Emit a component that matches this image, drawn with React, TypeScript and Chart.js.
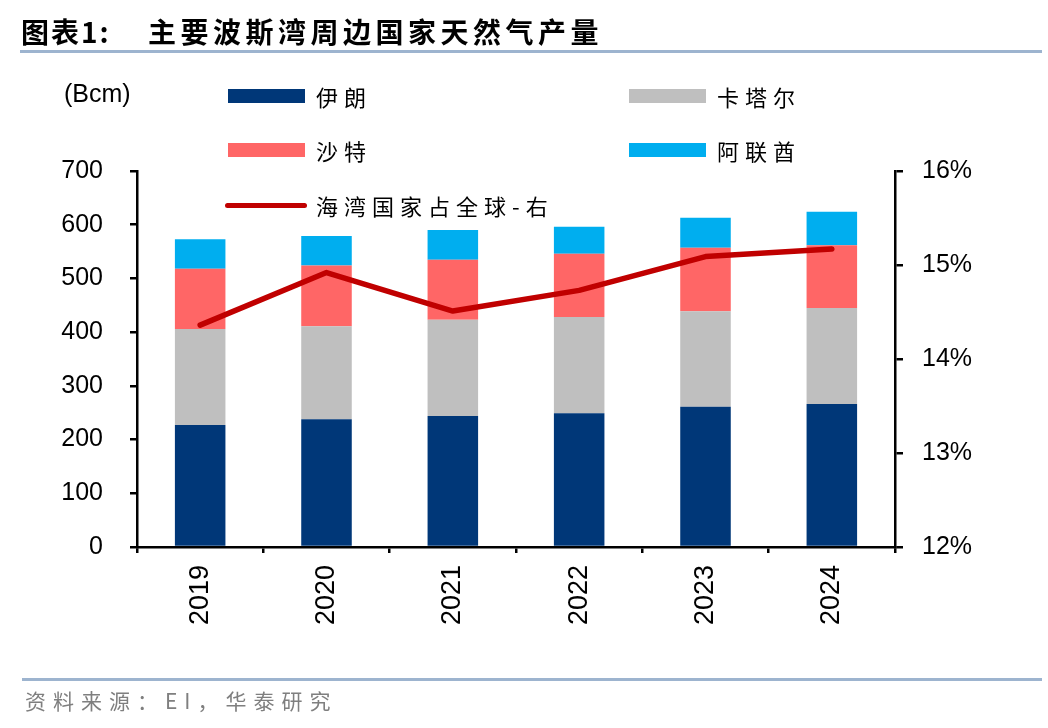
import React, { useEffect, useRef } from "react";
import { Chart, registerables } from "chart.js";

Chart.register(...registerables);

const years = ["2019", "2020", "2021", "2022", "2023", "2024"];
const iran = [227, 238, 244, 249, 261, 266];
const qatar = [179, 173, 179, 179, 178, 179];
const saudi = [112, 113, 112, 118, 118, 117];
const uae = [55, 55, 55, 50, 56, 62];
const gulfShare = [14.36, 14.92, 14.51, 14.73, 15.09, 15.17];

const seriesNames = ["伊朗", "卡塔尔", "沙特", "阿联酋", "海湾国家占全球-右"];
const colors = ["#003778", "#BFBFBF", "#FF6666", "#00AEEF", "#C00000"];

const titleLeft = "图表1:";
const titleRight = "主要波斯湾周边国家天然气产量";
const unitLabel = "(Bcm)";
const sourceText = "资料来源：EI，华泰研究";

const W = 1048;
const H = 728;
const AREA_LEFT = 137;
const AREA_RIGHT = 895;
const AREA_TOP = 171;
const AREA_BOTTOM = 547;

const latin = "'Liberation Sans', Arial, sans-serif";
const cjk = "'Noto Sans CJK SC', 'Liberation Sans', sans-serif";

export default function App() {
  const ref = useRef<HTMLCanvasElement | null>(null);

  useEffect(() => {
    if (!ref.current) return;
    const axisGrid = (len: number) => ({
      display: true,
      drawOnChartArea: false,
      drawTicks: true,
      tickLength: len,
      color: "#000",
      lineWidth: 2.5,
    });
    const border = { display: true, color: "#000", width: 2.5 };
    const chart = new Chart(ref.current, {
      type: "bar",
      data: {
        labels: years,
        datasets: [
          {
            type: "line",
            label: seriesNames[4],
            data: gulfShare,
            yAxisID: "y1",
            borderColor: colors[4],
            backgroundColor: colors[4],
            borderWidth: 5.5,
            pointRadius: 0,
            borderCapStyle: "round",
            borderJoinStyle: "round",
            tension: 0,
            order: 0,
          } as any,
          { label: seriesNames[0], data: iran, backgroundColor: colors[0], stack: "s", order: 1 },
          { label: seriesNames[1], data: qatar, backgroundColor: colors[1], stack: "s", order: 1 },
          { label: seriesNames[2], data: saudi, backgroundColor: colors[2], stack: "s", order: 1 },
          { label: seriesNames[3], data: uae, backgroundColor: colors[3], stack: "s", order: 1 },
        ],
      },
      options: {
        responsive: false,
        animation: false,
        layout: { padding: { top: AREA_TOP, left: 0, right: 0, bottom: 0 } },
        datasets: { bar: { barPercentage: 0.4, categoryPercentage: 1 } },
        plugins: { legend: { display: false }, tooltip: { enabled: false } },
        scales: {
          x: {
            stacked: true,
            grid: { ...axisGrid(6), offset: true },
            border,
            ticks: {
              color: "#000",
              font: { family: latin, size: 27 },
              minRotation: 90,
              maxRotation: 90,
              padding: 12,
              autoSkip: false,
            },
            afterFit: (s: any) => {
              s.height = H - AREA_BOTTOM;
            },
          },
          y: {
            stacked: true,
            position: "left",
            min: 0,
            max: 700,
            grid: axisGrid(7),
            border,
            ticks: {
              stepSize: 100,
              color: "#000",
              font: { family: latin, size: 25 },
              padding: 27,
            },
            afterFit: (s: any) => {
              s.width = AREA_LEFT;
            },
          },
          y1: {
            stacked: false,
            position: "right",
            min: 12,
            max: 16,
            grid: axisGrid(8),
            border,
            ticks: {
              stepSize: 1,
              color: "#000",
              font: { family: latin, size: 25 },
              padding: 19,
              callback: (v: any) => `${v}%`,
            },
            afterFit: (s: any) => {
              s.width = W - AREA_RIGHT;
            },
          },
        } as any,
      },
    });
    return () => chart.destroy();
  }, []);

  const swatch = (x: number, y: number, c: string) => (
    <div style={{ position: "absolute", left: x, top: y, width: 77, height: 14, background: c }} />
  );
  const legendText = (x: number, cy: number, t: string) => (
    <div
      style={{
        position: "absolute",
        left: x,
        top: cy - 12,
        fontFamily: cjk,
        fontSize: 22,
        lineHeight: "24px",
        letterSpacing: 6,
        color: "#000",
        whiteSpace: "nowrap",
      }}
    >
      {t}
    </div>
  );

  return (
    <div style={{ position: "fixed", left: 0, top: 0, width: W, height: H, background: "#fff", overflow: "hidden" }}>
      <canvas ref={ref} width={W} height={H} style={{ position: "absolute", left: 0, top: 0, width: W, height: H }} />
      <div
        style={{
          position: "absolute",
          left: 21,
          top: 15,
          fontFamily: cjk,
          fontWeight: 700,
          fontSize: 28,
          lineHeight: "32px",
          letterSpacing: 2,
          color: "#000",
          whiteSpace: "nowrap",
        }}
      >
        {titleLeft}
      </div>
      <div
        style={{
          position: "absolute",
          left: 148,
          top: 15,
          fontFamily: cjk,
          fontWeight: 700,
          fontSize: 28,
          lineHeight: "32px",
          letterSpacing: 4.5,
          color: "#000",
          whiteSpace: "nowrap",
        }}
      >
        {titleRight}
      </div>
      <div style={{ position: "absolute", left: 20, top: 50, width: W - 26, height: 3, background: "#9DB4CF" }} />
      <div
        style={{
          position: "absolute",
          left: 64,
          top: 80,
          fontFamily: latin,
          fontSize: 25,
          lineHeight: "26px",
          color: "#000",
        }}
      >
        {unitLabel}
      </div>
      {swatch(228, 89, colors[0])}
      {legendText(316, 96, seriesNames[0])}
      {swatch(629, 89, colors[1])}
      {legendText(717, 96, seriesNames[1])}
      {swatch(228, 143, colors[2])}
      {legendText(316, 150, seriesNames[2])}
      {swatch(629, 143, colors[3])}
      {legendText(717, 150, seriesNames[3])}
      <div
        style={{
          position: "absolute",
          left: 225,
          top: 203,
          width: 82,
          height: 5,
          borderRadius: 3,
          background: colors[4],
        }}
      />
      {legendText(316, 205, seriesNames[4])}
      <div style={{ position: "absolute", left: 22, top: 678, width: W - 28, height: 3, background: "#9DB4CF" }} />
      <div
        style={{
          position: "absolute",
          left: 25,
          top: 688,
          fontFamily: cjk,
          fontSize: 21,
          lineHeight: "24px",
          letterSpacing: 7,
          color: "#7F7F7F",
          whiteSpace: "nowrap",
        }}
      >
        {sourceText}
      </div>
    </div>
  );
}
